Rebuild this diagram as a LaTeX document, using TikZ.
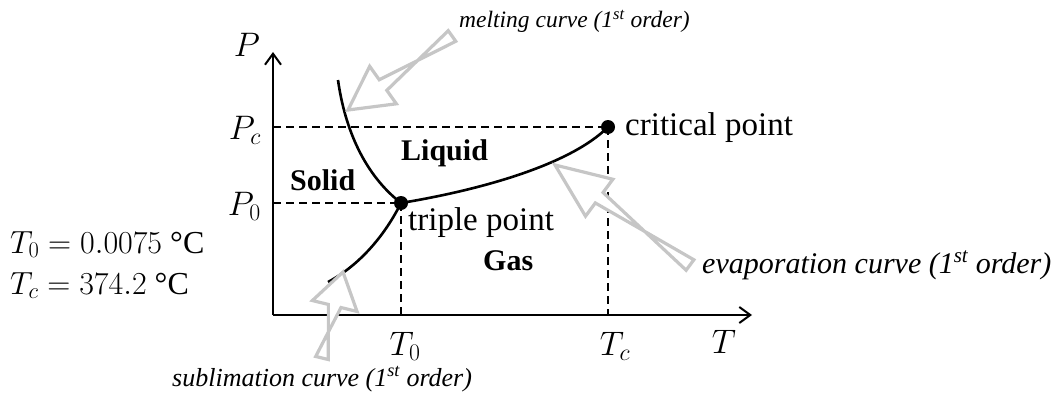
\RequirePackage{fix-cm}
\documentclass[tikz,border=0pt]{standalone}
\usepackage{fontspec}
\setmainfont{Liberation Serif}
\usetikzlibrary{calc,arrows.meta}
\tikzset{
  axis/.style={line width=2.2pt,-{Straight Barb[length=11pt,width=16pt,line width=2pt]}},
  guide/.style={line width=1.6pt,dash pattern=on 8pt off 5pt},
  curve/.style={line width=2.6pt},
  dot/.style={circle,fill=black,inner sep=0pt,minimum size=14pt},
  hollow/.style={draw=gray!45,line width=3.2pt,fill=white,line join=miter},
  lbl/.style={inner sep=0pt,font=\fontsize{33}{36}\selectfont},
  phase/.style={inner sep=0pt,font=\fontsize{30}{34}\selectfont\bfseries},
  mathlbl/.style={inner sep=0pt,font=\fontsize{34}{38}\selectfont},
  constlbl/.style={inner sep=0pt,font=\fontsize{32}{36}\selectfont},
  note/.style={inner sep=0pt,font=\itshape}
}
\newcommand\hollowarrow[3]{% tail, tip, head length
  \draw[hollow]
    ($(#1)!6.5pt!90:(#2)$) --
    ($(#2)!#3!(#1)!6.5pt!-90:(#2)$) --
    ($(#2)!#3!(#1)!23pt!-90:(#2)$) --
    (#2) --
    ($(#2)!#3!(#1)!23pt!90:(#2)$) --
    ($(#2)!#3!(#1)!6.5pt!90:(#2)$) --
    ($(#1)!6.5pt!-90:(#2)$) -- cycle;}
\begin{document}
\begin{tikzpicture}[x=1pt,y=-1pt]
\useasboundingbox (0,0) rectangle (1059,396);
% key points
\coordinate (O) at (273,315);
\coordinate (Ptop) at (273,52);
\coordinate (Tend) at (752,315);
\node[dot] (tp) at (401,203) {};
\node[dot] (cp) at (608,127) {};
\coordinate (Pc) at (273,127);
\coordinate (P0) at (273,203);
\coordinate (Tc) at (608,315);
\coordinate (T0) at (401,315);
\coordinate (mtop) at (338,80);
\coordinate (sbot) at (328,282);
% guides
\draw[guide] (Pc) -- (cp.center);
\draw[guide] (cp.center) -- (Tc);
\draw[guide] (P0) -- (tp.center);
\draw[guide] (tp.center) -- (T0);
% axes
\draw[axis] (O) -- (Ptop);
\draw[axis] (O) -- (Tend);
% curves
\draw[curve] (mtop) .. controls (345,130) and (365,175) .. (tp.center);
\draw[curve] (tp.center) .. controls (385,235) and (360,265) .. (sbot);
\draw[curve] (tp.center) .. controls (480,190) and (570,165) .. (cp.center);
% axis labels
\node[mathlbl] (Plab) at (247,45) {$P$};
\node[mathlbl,anchor=east] (Pclab) at (261,130) {$P_c$};
\node[mathlbl,anchor=east] (P0lab) at (261,206) {$P_0$};
\node[mathlbl] (T0lab) at (405,346) {$T_0$};
\node[mathlbl] (Tclab) at (615,346) {$T_c$};
\node[mathlbl] (Tlab) at (724,342) {$T$};
% left constants
\node[constlbl,anchor=base west] (T0val) at (10,253) {$T_0 = 0.0075$ °C};
\node[constlbl,anchor=base west] (Tcval) at (10,294) {$T_c = 374.2$ °C};
% phases
\node[phase,anchor=base west] (solid) at (290,190) {Solid};
\node[phase,anchor=base west] (liquid) at (401,160) {Liquid};
\node[phase,anchor=base west] (gas) at (483,270) {Gas};
% point labels
\node[lbl,anchor=base west] (cplab) at (625,135) {critical point};
\node[lbl,anchor=base west] (tplab) at (408,230) {triple point};
% notes
\node[note,anchor=base west,font=\fontsize{23.5}{26}\selectfont\itshape] (mnote) at (459,28) {melting curve (1\textsuperscript{st} order)};
\node[note,anchor=base west,font=\fontsize{30}{34}\selectfont\itshape] (enote) at (702,273) {evaporation curve (1\textsuperscript{st} order)};
\node[note,anchor=base west,font=\fontsize{26}{30}\selectfont\itshape] (snote) at (172,386) {sublimation curve (1\textsuperscript{st} order)};
% hollow arrows
\coordinate (mtail) at (452,36);
\coordinate (mtip) at (348,110);
\coordinate (etail) at (690,265);
\coordinate (etip) at (555,165);
\coordinate (stail) at (322,358);
\coordinate (stip) at (343,272);
\hollowarrow{mtail}{mtip}{43pt}
\hollowarrow{etail}{etip}{55pt}
\hollowarrow{stail}{stip}{35pt}
\end{tikzpicture}
\end{document}
